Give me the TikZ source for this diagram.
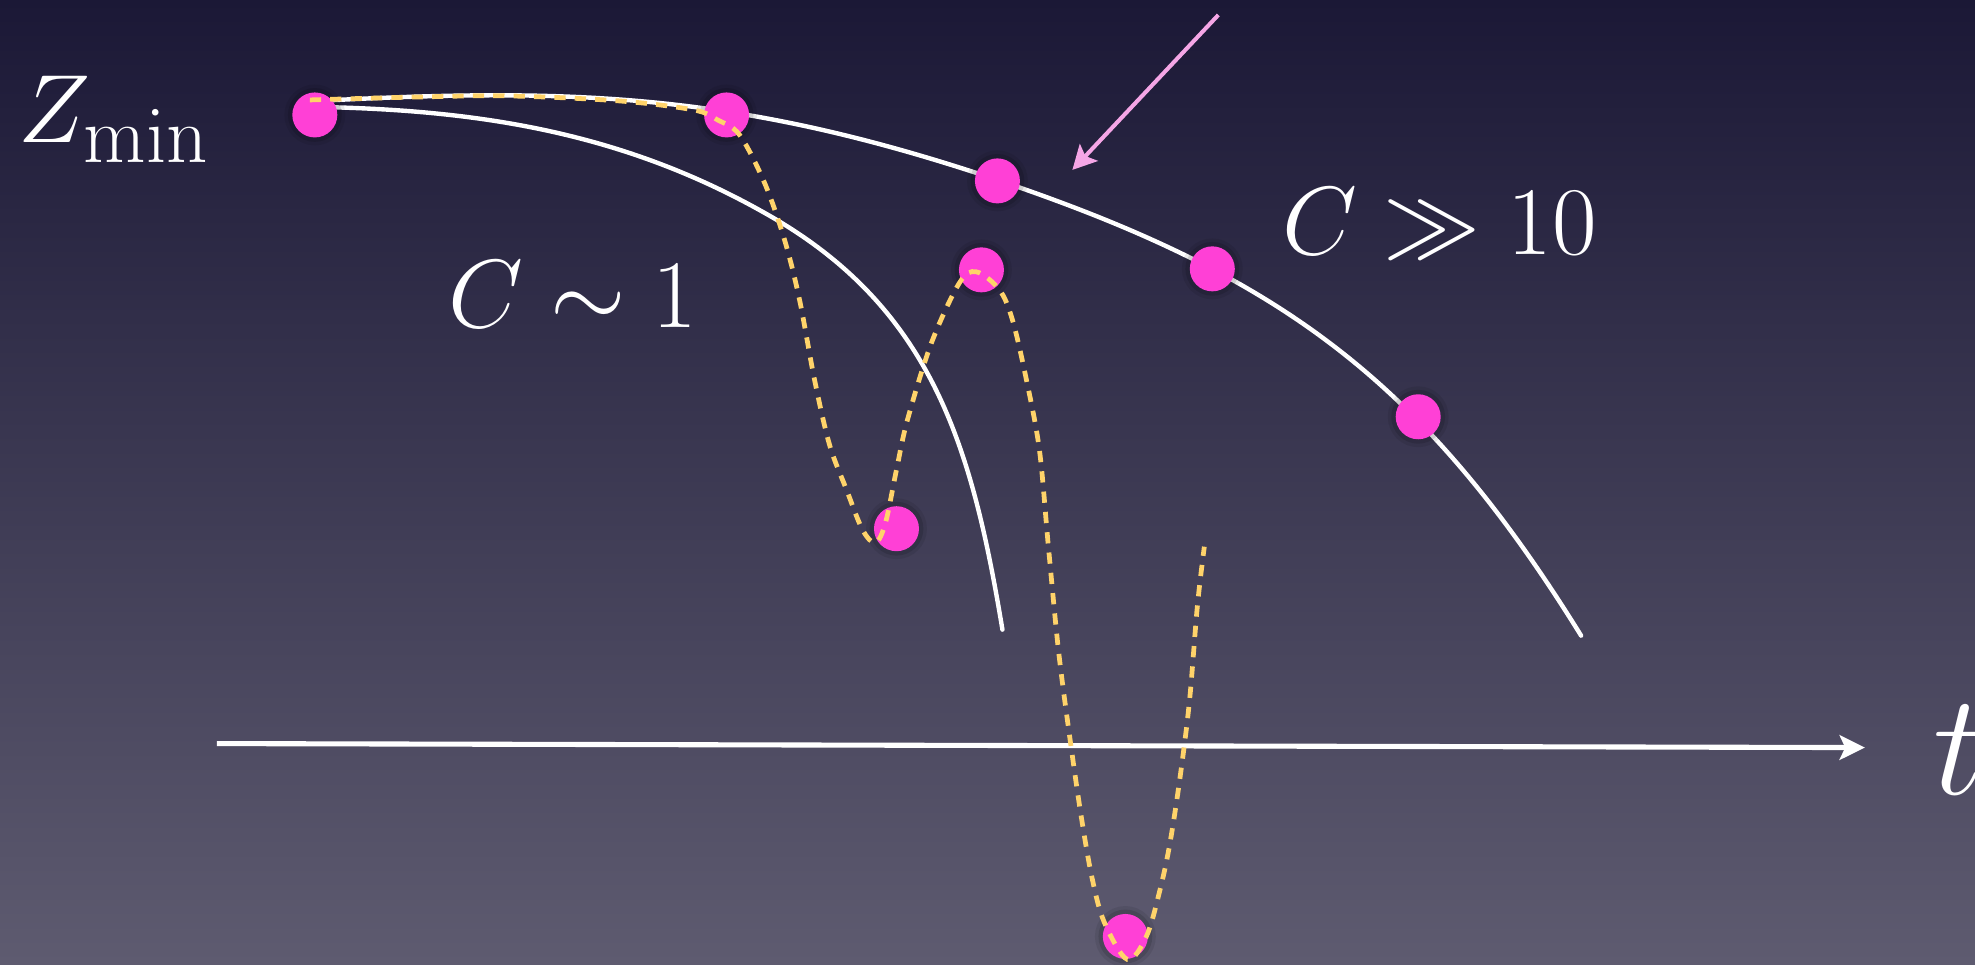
\documentclass[tikz,border=0pt]{standalone}
\usetikzlibrary{arrows.meta}
\definecolor{bgtop}{RGB}{27,24,54}
\definecolor{bgmid}{RGB}{60,58,86}
\definecolor{bgbot}{RGB}{94,91,112}
\definecolor{dotpink}{RGB}{255,64,214}
\definecolor{arrowpink}{RGB}{245,166,230}
\definecolor{pathyellow}{RGB}{255,211,106}
\tikzset{
  dot/.style={circle, fill=dotpink, minimum size=0.45cm, inner sep=0pt,
    preaction={draw=black, draw opacity=0.08, line width=4.5pt},
    preaction={draw=black, draw opacity=0.12, line width=2.5pt}},
  curve/.style={white, line width=1.25pt, line cap=round},
  axisline/.style={white, line width=1.45pt, -{Stealth[length=7.2pt, width=7pt, inset=1.6pt]}},
  pointer/.style={arrowpink, line width=1.15pt, -{Stealth[length=6.8pt, width=7pt, inset=1.4pt]}},
  traj/.style={pathyellow, line width=1.35pt, dash pattern=on 3.2pt off 2.6pt},
  lbl/.style={text=white, inner sep=0pt, anchor=base west, font=\Huge, scale=1.109},
  biglbl/.style={text=white, inner sep=0pt, anchor=base west, font=\Huge, scale=1.65}
}
\begin{document}
\begin{tikzpicture}[x=0.01cm, y=-0.01cm]
\useasboundingbox (0cm,0cm) rectangle (19.75cm,-9.64cm);
\shade[top color=bgtop, middle color=bgmid, bottom color=bgbot] (0cm,0cm) rectangle (19.75cm,-9.64cm);

% white curves
\coordinate (o0) at (318,101);
\coordinate (o1) at (998,180);
\coordinate (o2) at (1582,636);
\draw[curve] (o0) .. controls (578,87) and (742,94) .. (o1)
                  .. controls (1282,276) and (1424,381) .. (o2);
\coordinate (i0) at (318,107);
\coordinate (i1) at (765,213);
\coordinate (i2) at (1003,630);
\draw[curve] (i0) .. controls (475,110) and (620,131) .. (i1)
                  .. controls (931,306) and (972,443) .. (i2);

% time axis
\coordinate (ax0) at (217,744);
\coordinate (ax1) at (1866,748);
\draw[axisline] (ax0) -- (ax1);
\node[biglbl] (t) at (1933,795) {$t$};

% pointer arrow
\coordinate (p0) at (1219,15);
\coordinate (p1) at (1073,170);
\draw[pointer] (p0) -- (p1);

% dots
\node[dot] (d1) at (315,115) {};
\node[dot] (d2) at (727,115) {};
\node[dot] (d3) at (998,181) {};
\node[dot] (d4) at (1213,269) {};
\node[dot] (d5) at (1419,417) {};
\node[dot] (d6) at (982,270) {};
\node[dot] (d7) at (897,529) {};
\node[dot] (d8) at (1126,937) {};

% trajectory
\draw[traj] plot[smooth, tension=0.55] coordinates {(310,100) (420,97) (510,96) (620,101) (694,110) (718,120) (740,135) (765,183) (785,240) (800,300) (815,380) (830,445) (847,490) (863,530) (876,543) (886,523) (897,470) (908,420) (932,343) (960,283) (977,272) (1000,290) (1013,320) (1027,380) (1040,450) (1049,547) (1059,650) (1070,735) (1082,818) (1093,880) (1105,923) (1128,960) (1147,937) (1160,893) (1170,847) (1180,783) (1190,703) (1198,607) (1205,547)};

% labels
\node[lbl] (zmin) at (18,143) {$Z_{\min}$};
\node[lbl] (c1) at (448,328) {$C\sim 1$};
\node[lbl] (c10) at (1282,255) {$C\gg 10$};
\end{tikzpicture}
\end{document}
